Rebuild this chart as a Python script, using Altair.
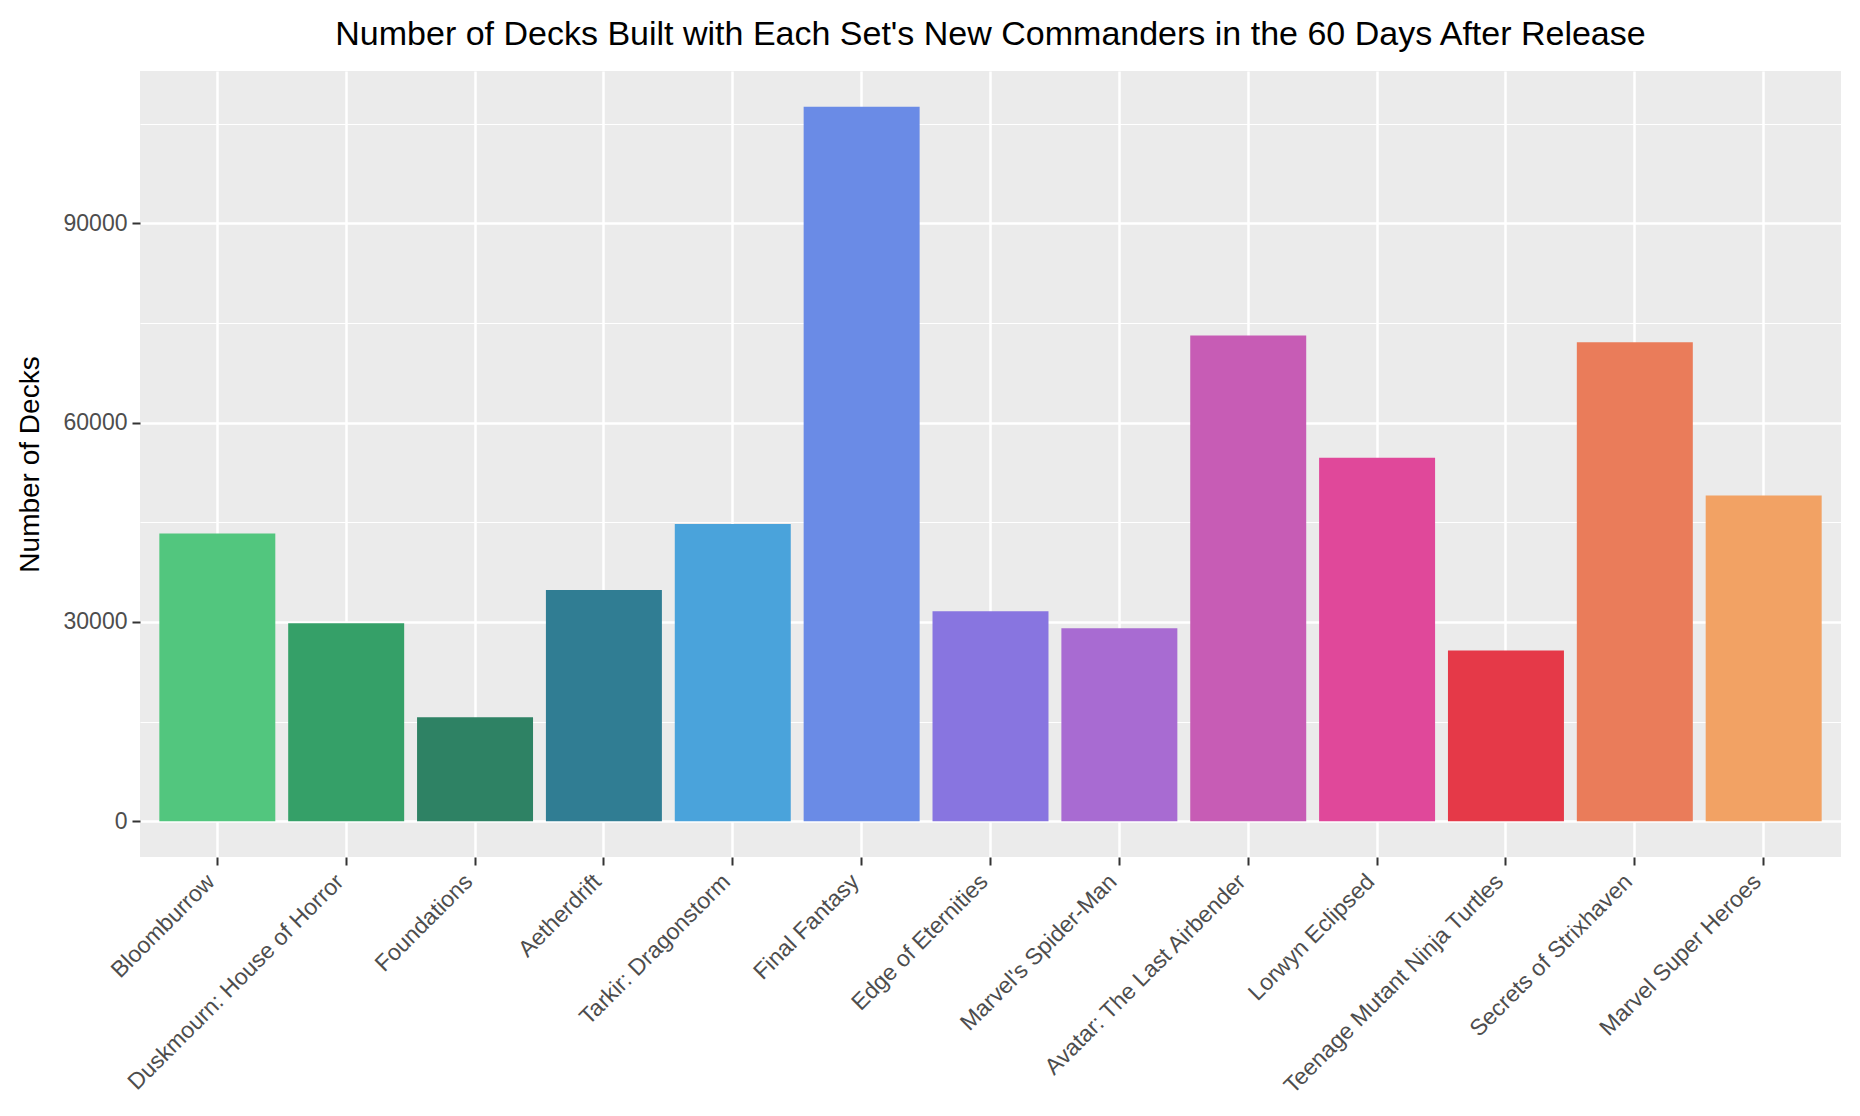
import altair as alt
import pandas as pd

sets = ["Bloomburrow", "Duskmourn: House of Horror", "Foundations", "Aetherdrift",
        "Tarkir: Dragonstorm", "Final Fantasy", "Edge of Eternities", "Marvel's Spider-Man",
        "Avatar: The Last Airbender", "Lorwyn Eclipsed", "Teenage Mutant Ninja Turtles",
        "Secrets of Strixhaven", "Marvel Super Heroes"]
decks = [43300, 29800, 15650, 34800, 44750, 107550, 31600, 29050, 73100, 54700, 25700, 72100, 49050]
colors = ["#52C67E", "#35A068", "#2E8264", "#307D93", "#4AA3DB", "#6A8BE6", "#8875E0",
          "#A86BD2", "#C75CB5", "#E0489A", "#E53948", "#EA7C5A", "#F2A264"]
y_ticks = [0, 15000, 30000, 45000, 60000, 75000, 90000, 105000]

title_text = "Number of Decks Built with Each Set's New Commanders in the 60 Days After Release"

df = pd.DataFrame({"set": sets, "decks": decks})

ymax = max(decks)
pad = 0.05 * ymax
FONT = "Liberation Sans"
is_major = "datum.value % 30000 === 0"

chart = alt.Chart(df).mark_bar().encode(
    x=alt.X("set:N", sort=sets, title=None,
            scale=alt.Scale(paddingInner=0.1, paddingOuter=0.15),
            axis=alt.Axis(labelAngle=-45, labelAlign="right", labelBaseline="top",
                          labelFontSize=23, labelColor="#4D4D4D", labelFont=FONT,
                          labelLimit=500, labelPadding=5, labelOffset=-14,
                          tickColor="#333333", tickSize=8, tickWidth=2,
                          domain=False, grid=True, gridColor="white", gridWidth=2.5,
                          bandPosition=0.5)),
    y=alt.Y("decks:Q", title="Number of Decks",
            scale=alt.Scale(domain=[-pad, ymax + pad], nice=False, zero=False),
            axis=alt.Axis(values=y_ticks, format="d",
                          labelExpr=is_major + " ? datum.label : ''",
                          labelFontSize=23, labelColor="#4D4D4D", labelFont=FONT,
                          labelPadding=5,
                          tickColor="#333333", tickSize=8, tickWidth=2,
                          tickOpacity={"condition": {"test": is_major, "value": 1}, "value": 0},
                          domain=False, grid=True, gridColor="white",
                          gridWidth={"condition": {"test": is_major, "value": 2.5}, "value": 1.2},
                          titleFont=FONT, titleFontSize=28, titleFontWeight="normal",
                          titleColor="black", titleAngle=270, titleAlign="center",
                          titleBaseline="alphabetic", titleX=-102, titleY=393)),
    y2=alt.datum(0),
    color=alt.Color("set:N", scale=alt.Scale(domain=sets, range=colors), legend=None),
).properties(
    width=1701, height=786,
    autosize="none",
    padding={"left": 132, "top": 63, "right": 11, "bottom": 240},
    background="white",
    title=alt.Title(title_text, font=FONT, fontSize=34, fontWeight="normal",
                    color="black", anchor="middle", offset=19),
).configure_view(fill="#EBEBEB", strokeWidth=0)

chart.save("out.html", embed_options={"renderer": "svg", "actions": False})
